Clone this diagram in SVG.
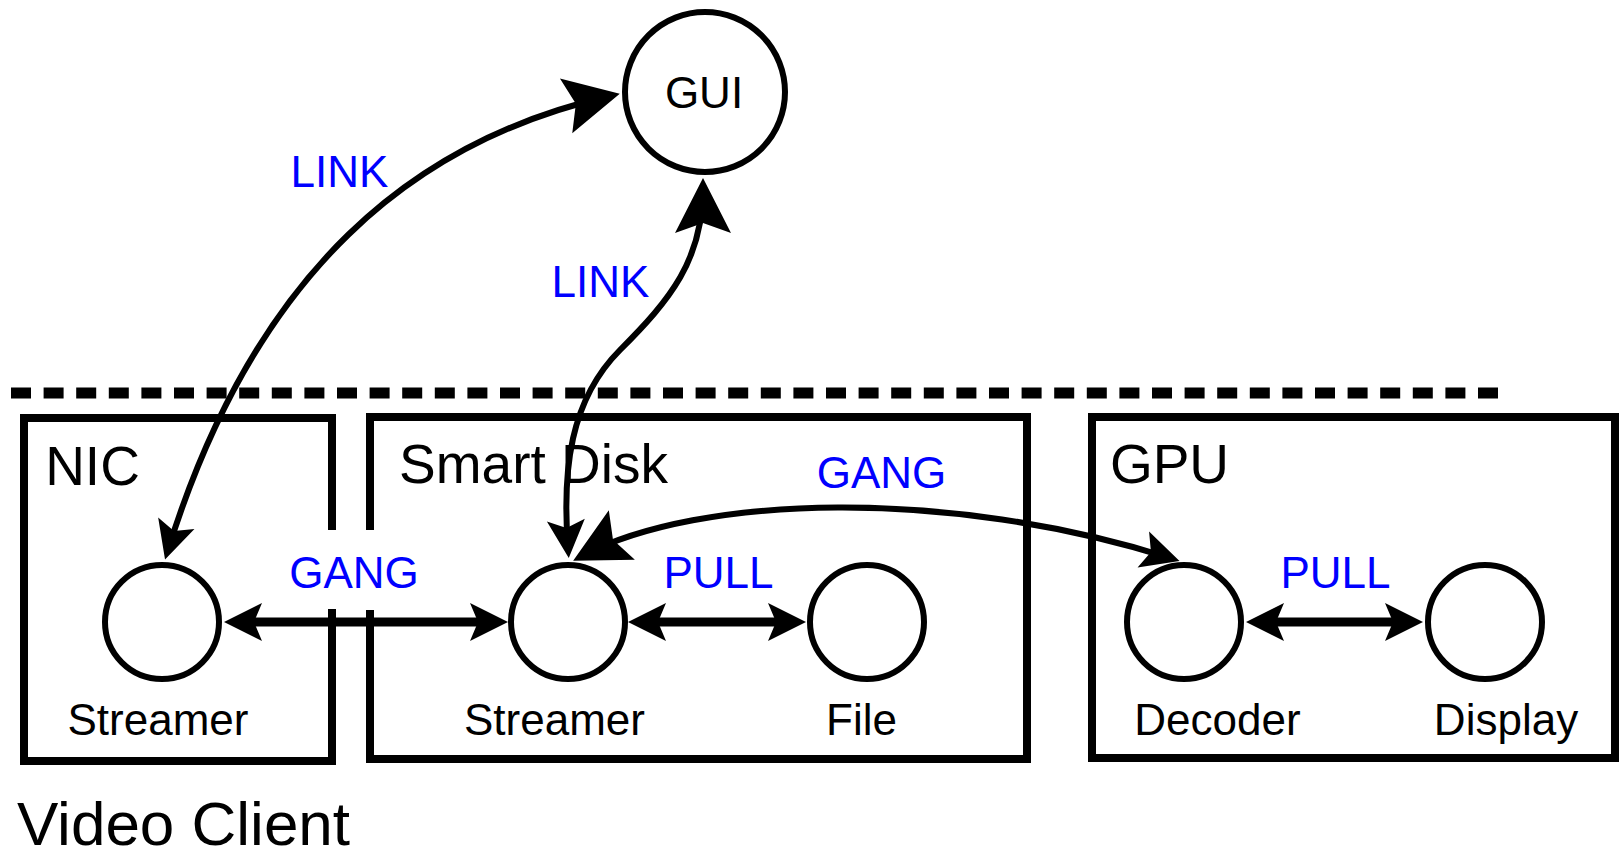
<svg xmlns="http://www.w3.org/2000/svg" width="1621" height="853" viewBox="0 0 1621 853">
  <style>
    .box { fill: none; stroke: #000; stroke-width: 8; stroke-linejoin: miter; stroke-linecap: butt; }
    .node { fill: #fff; stroke: #000; stroke-width: 6; }
    .title { font-family: "Liberation Sans", Arial, Helvetica, sans-serif; font-size: 55px; fill: #000; text-anchor: middle; }
    .label { font-family: "Liberation Sans", Arial, Helvetica, sans-serif; font-size: 44px; fill: #000; text-anchor: middle; }
    .edge-label { font-family: "Liberation Sans", Arial, Helvetica, sans-serif; font-size: 44px; fill: #0000ff; text-anchor: middle; }
    .wire { fill: none; stroke: #000; stroke-width: 9; }
    .curve { fill: none; stroke: #000; stroke-width: 6; }
  </style>
  <defs>
    <!-- small dart arrowhead, tip at origin -->
    <marker id="dart" markerUnits="userSpaceOnUse" viewBox="-40 -20 42 40" markerWidth="42" markerHeight="40" refX="-10" refY="0" orient="auto-start-reverse">
      <path d="M0,0 L-38,-19 L-30,0 L-38,19 Z" fill="#000"/>
    </marker>
    <!-- large dart arrowhead, tip at origin -->
    <marker id="dart-big" markerUnits="userSpaceOnUse" viewBox="-58 -30 60 60" markerWidth="60" markerHeight="60" refX="-10" refY="0" orient="auto-start-reverse">
      <path d="M0,0 L-55,-28 L-45,0 L-55,28 Z" fill="#000"/>
    </marker>
  </defs>

  <rect width="1621" height="853" fill="#fff"/>

  <!-- boundary between GUI host and the video client -->
  <line x1="11" y1="393" x2="1498" y2="393" stroke="#000" stroke-width="11" stroke-dasharray="20 12.6"/>

  <!-- containers -->
  <g id="nic">
    <path class="box" d="M332,530 V418 H24 V761 H332 V609"/>
    <text class="title" x="92.5" y="485">NIC</text>
  </g>
  <g id="smart-disk">
    <path class="box" d="M370,530 V417 H1027 V759 H370 V610"/>
    <text class="title" x="533.5" y="483">Smart Disk</text>
  </g>
  <g id="gpu">
    <rect class="box" x="1092" y="417" width="523" height="341"/>
    <text class="title" x="1169.5" y="483">GPU</text>
  </g>

  <!-- nodes -->
  <g id="gui">
    <circle class="node" cx="705" cy="92" r="80"/>
    <text class="label" x="704" y="108">GUI</text>
  </g>
  <g id="nic-streamer">
    <circle class="node" cx="162" cy="622" r="57"/>
    <text class="label" x="158" y="735">Streamer</text>
  </g>
  <g id="disk-streamer">
    <circle class="node" cx="568" cy="622" r="57"/>
    <text class="label" x="554.5" y="735">Streamer</text>
  </g>
  <g id="file">
    <circle class="node" cx="867" cy="622" r="57"/>
    <text class="label" x="861.5" y="735">File</text>
  </g>
  <g id="decoder">
    <circle class="node" cx="1184" cy="622" r="57"/>
    <text class="label" x="1217.5" y="735">Decoder</text>
  </g>
  <g id="display">
    <circle class="node" cx="1485" cy="622" r="57"/>
    <text class="label" x="1506" y="735">Display</text>
  </g>

  <!-- connectors -->
  <g id="connectors">
    <path class="wire" d="M234,622 H498" marker-start="url(#dart)" marker-end="url(#dart)"/>
    <path class="wire" d="M638,622 H796" marker-start="url(#dart)" marker-end="url(#dart)"/>
    <path class="wire" d="M1256,622 H1413" marker-start="url(#dart)" marker-end="url(#dart)"/>
    <path class="curve" d="M168,550 C255,270 415,140 610,96" marker-start="url(#dart)" marker-end="url(#dart-big)"/>
    <path class="curve" d="M568,548 C562,470 570,400 620,350 S703,260 703,188" marker-start="url(#dart)" marker-end="url(#dart-big)"/>
    <path class="curve" d="M582,556 C700,494 950,488 1170,558" marker-start="url(#dart-big)" marker-end="url(#dart)"/>

    <text class="edge-label" x="339.5" y="187">LINK</text>
    <text class="edge-label" x="600.5" y="297">LINK</text>
    <text class="edge-label" x="354" y="588">GANG</text>
    <text class="edge-label" x="718.5" y="588">PULL</text>
    <text class="edge-label" x="881.5" y="488">GANG</text>
    <text class="edge-label" x="1335.5" y="588">PULL</text>
  </g>

  <text class="title" x="183.5" y="845" style="font-size:62px">Video Client</text>
</svg>
